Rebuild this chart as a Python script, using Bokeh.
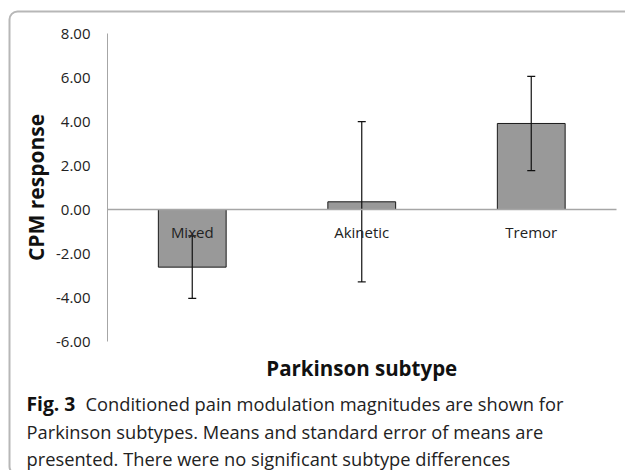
from bokeh.plotting import figure
from bokeh.models import (Range1d, FixedTicker, Whisker, TeeHead,
                          ColumnDataSource, Label, BoxAnnotation)
from bokeh.embed import file_html
from bokeh.resources import INLINE

# ---- data ----
categories = ["Mixed", "Akinetic", "Tremor"]
means = [-2.62, 0.35, 3.91]
sem = [1.42, 3.64, 2.14]
ytick_values = [-6, -4, -2, 0, 2, 4, 6, 8]
ytick_labels = ["-6.00", "-4.00", "-2.00", "0.00", "2.00", "4.00", "6.00", "8.00"]
y_title = "CPM response"
x_title = "Parkinson subtype"
caption_bold = "Fig. 3"
caption_lines = [
    "Conditioned pain modulation magnitudes are shown for",
    "Parkinson subtypes. Means and standard error of means are",
    "presented. There were no significant subtype differences",
]

FONT = "Open Sans"
W, H = 625, 470

# ---- layout (pixels of the page) ----
AXIS_PX = 107.0     # where the value axis sits
CAT_PX = 169.5      # width of one category slot
ZERO_PX = 209.0     # where value 0 sits
UNIT_PX = 22.0      # pixels per value unit


def px_x(px):
    return (px - AXIS_PX) / CAT_PX


def px_y(py):
    return (ZERO_PX - py) / UNIT_PX


xpos = [i + 0.5 for i in range(len(categories))]
src = ColumnDataSource(dict(
    x=xpos,
    mean=means,
    upper=[m + s for m, s in zip(means, sem)],
    lower=[m - s for m, s in zip(means, sem)],
))

p = figure(width=W, height=H, output_backend="svg", toolbar_location=None, title=None,
           x_range=Range1d(px_x(0), px_x(W)), y_range=Range1d(px_y(H), px_y(0)),
           min_border=0)
p.outline_line_color = None
p.grid.visible = False

# value axis
ya = p.yaxis[0]
ya.fixed_location = 0
ya.bounds = (ytick_values[0], ytick_values[-1])
ya.ticker = FixedTicker(ticks=ytick_values)
ya.major_label_overrides = {v: l for v, l in zip(ytick_values, ytick_labels)}
ya.major_tick_out = 0
ya.major_tick_in = 0
ya.minor_tick_out = 0
ya.minor_tick_in = 0
ya.axis_line_color = "#a6a6a6"
ya.axis_line_width = 1
ya.major_label_standoff = 17
ya.major_label_text_font = FONT
ya.major_label_text_font_size = "15px"
ya.major_label_text_color = "#222222"
ya.axis_label = y_title
ya.axis_label_text_font = FONT
ya.axis_label_text_font_style = "bold"
ya.axis_label_text_font_size = "21px"
ya.axis_label_text_color = "#111111"
ya.axis_label_standoff = 3

# category axis crossing at zero
xa = p.xaxis[0]
xa.fixed_location = 0
xa.bounds = (0, len(categories))
xa.ticker = FixedTicker(ticks=xpos)
xa.major_label_overrides = {x: c for x, c in zip(xpos, categories)}
xa.major_tick_out = 0
xa.major_tick_in = 0
xa.minor_tick_out = 0
xa.minor_tick_in = 0
xa.axis_line_color = "#a6a6a6"
xa.axis_line_width = 1.5
xa.major_label_standoff = 12
xa.major_label_text_font = FONT
xa.major_label_text_font_size = "15px"
xa.major_label_text_color = "#222222"

p.vbar(x="x", top="mean", bottom=0, width=0.4, source=src,
       fill_color="#999999", line_color="#1a1a1a", line_width=1, level="underlay")

w = Whisker(base="x", upper="upper", lower="lower", source=src,
            line_color="#111111", line_width=1.2,
            upper_head=TeeHead(size=8, line_color="#111111", line_width=1.2),
            lower_head=TeeHead(size=8, line_color="#111111", line_width=1.2))
p.add_layout(w)

# axis title and caption
p.add_layout(Label(x=len(categories) / 2, y=px_y(367.5), text=x_title,
                   text_align="center", text_baseline="alphabetic",
                   text_font=FONT, text_font_style="bold", text_font_size="20.5px",
                   text_color="#111111"))
p.add_layout(Label(x=px_x(26), y=px_y(403.3), text=caption_bold,
                   text_font=FONT, text_font_style="bold", text_font_size="19.3px",
                   text_baseline="alphabetic", text_color="#111111"))
p.add_layout(Label(x=px_x(85), y=px_y(403.3), text=caption_lines[0],
                   text_font=FONT, text_font_size="18.3px",
                   text_baseline="alphabetic", text_color="#222222"))
for i, line in enumerate(caption_lines[1:]):
    p.add_layout(Label(x=px_x(26), y=px_y(430.5 + 27 * i), text=line,
                       text_font=FONT, text_font_size="18.3px",
                       text_baseline="alphabetic", text_color="#222222"))

# rounded frame of the figure panel (runs off the right and bottom edges)
p.add_layout(BoxAnnotation(left=px_x(9), top=px_y(11), right=px_x(W + 30), bottom=px_y(H + 4),
                           fill_alpha=0, line_color="#111111", line_width=2,
                           border_radius=8, level="overlay"))

open("out.html", "w").write(file_html(p, INLINE))
